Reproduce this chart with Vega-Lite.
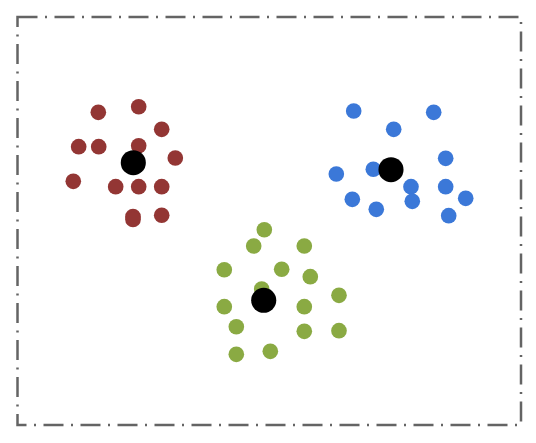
{
  "$schema": "https://vega.github.io/schema/vega-lite/v6.json",
  "width": 536,
  "height": 443,
  "autosize": {"type": "fit", "contains": "padding"},
  "padding": {"left": 17.5, "top": 17, "right": 15, "bottom": 18},
  "background": "white",
  "config": {
    "view": {"stroke": "#646464", "strokeWidth": 2.5, "strokeDash": [20, 7.5, 2, 7.5]}
  },
  "data": {
    "values": [
      {"cluster": "A", "role": "point", "x": 1.605, "y": 6.131},
      {"cluster": "A", "role": "point", "x": 2.407, "y": 6.241},
      {"cluster": "A", "role": "point", "x": 2.864, "y": 5.798},
      {"cluster": "A", "role": "point", "x": 1.215, "y": 5.457},
      {"cluster": "A", "role": "point", "x": 1.613, "y": 5.457},
      {"cluster": "A", "role": "point", "x": 2.407, "y": 5.476},
      {"cluster": "A", "role": "point", "x": 3.134, "y": 5.235},
      {"cluster": "A", "role": "point", "x": 1.108, "y": 4.778},
      {"cluster": "A", "role": "point", "x": 1.950, "y": 4.673},
      {"cluster": "A", "role": "point", "x": 2.407, "y": 4.673},
      {"cluster": "A", "role": "point", "x": 2.864, "y": 4.673},
      {"cluster": "A", "role": "point", "x": 2.294, "y": 4.088},
      {"cluster": "A", "role": "point", "x": 2.294, "y": 4.029},
      {"cluster": "A", "role": "point", "x": 2.864, "y": 4.112},
      {"cluster": "B", "role": "point", "x": 6.677, "y": 6.157},
      {"cluster": "B", "role": "point", "x": 8.266, "y": 6.131},
      {"cluster": "B", "role": "point", "x": 7.472, "y": 5.798},
      {"cluster": "B", "role": "point", "x": 8.504, "y": 5.229},
      {"cluster": "B", "role": "point", "x": 6.332, "y": 4.922},
      {"cluster": "B", "role": "point", "x": 7.067, "y": 5.014},
      {"cluster": "B", "role": "point", "x": 7.815, "y": 4.673},
      {"cluster": "B", "role": "point", "x": 8.504, "y": 4.673},
      {"cluster": "B", "role": "point", "x": 6.650, "y": 4.425},
      {"cluster": "B", "role": "point", "x": 7.841, "y": 4.386},
      {"cluster": "B", "role": "point", "x": 7.126, "y": 4.229},
      {"cluster": "B", "role": "point", "x": 8.902, "y": 4.445},
      {"cluster": "B", "role": "point", "x": 8.564, "y": 4.104},
      {"cluster": "C", "role": "point", "x": 4.902, "y": 3.829},
      {"cluster": "C", "role": "point", "x": 4.691, "y": 3.510},
      {"cluster": "C", "role": "point", "x": 5.696, "y": 3.510},
      {"cluster": "C", "role": "point", "x": 4.107, "y": 3.045},
      {"cluster": "C", "role": "point", "x": 5.247, "y": 3.053},
      {"cluster": "C", "role": "point", "x": 5.815, "y": 2.908},
      {"cluster": "C", "role": "point", "x": 4.850, "y": 2.667},
      {"cluster": "C", "role": "point", "x": 6.385, "y": 2.543},
      {"cluster": "C", "role": "point", "x": 4.107, "y": 2.320},
      {"cluster": "C", "role": "point", "x": 5.696, "y": 2.320},
      {"cluster": "C", "role": "point", "x": 4.346, "y": 1.927},
      {"cluster": "C", "role": "point", "x": 5.696, "y": 1.837},
      {"cluster": "C", "role": "point", "x": 6.385, "y": 1.849},
      {"cluster": "C", "role": "point", "x": 4.346, "y": 1.386},
      {"cluster": "C", "role": "point", "x": 5.021, "y": 1.445},
      {"cluster": "A", "role": "centroid", "x": 2.300, "y": 5.143},
      {"cluster": "B", "role": "centroid", "x": 7.418, "y": 5.006},
      {"cluster": "C", "role": "centroid", "x": 4.890, "y": 2.445}
    ]
  },
  "layer": [
    {
      "transform": [{"filter": "datum.role === 'point'"}],
      "mark": {"type": "circle", "size": 245, "opacity": 1, "strokeWidth": 0},
      "encoding": {
        "x": {"field": "x", "type": "quantitative", "scale": {"domain": [0, 10], "nice": false, "zero": false}, "axis": null},
        "y": {"field": "y", "type": "quantitative", "scale": {"domain": [0, 8], "nice": false, "zero": false}, "axis": null},
        "color": {"field": "cluster", "type": "nominal", "scale": {"domain": ["A", "B", "C"], "range": ["#933634", "#3b78d8", "#8aaa43"]}, "legend": null}
      }
    },
    {
      "transform": [{"filter": "datum.role === 'centroid'"}],
      "mark": {"type": "circle", "size": 630, "opacity": 1, "color": "#000000", "strokeWidth": 0},
      "encoding": {
        "x": {"field": "x", "type": "quantitative"},
        "y": {"field": "y", "type": "quantitative"}
      }
    }
  ]
}
